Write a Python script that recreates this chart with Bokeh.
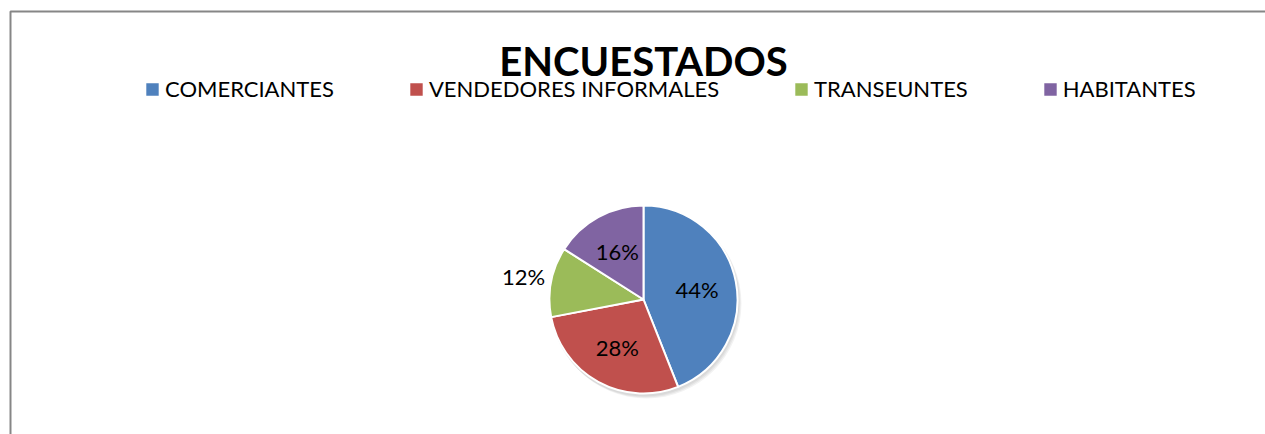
import math
from bokeh.plotting import figure
from bokeh.models import Range1d, Label, Legend, LegendItem, BoxAnnotation, ColumnDataSource, LabelSet
from bokeh.core.properties import value
from bokeh.embed import file_html
from bokeh.resources import INLINE

# ---- data ----
title_text = "ENCUESTADOS"
categories = ["COMERCIANTES", "VENDEDORES INFORMALES", "TRANSEUNTES", "HABITANTES"]
values = [44, 28, 12, 16]
colors = ["#4F81BD", "#C0504D", "#9BBB59", "#8064A2"]

# ---- layout ----
W, H = 1265, 434
CX, CY, R = 643, 135, 94
FONT = "Lato"

total = float(sum(values))
starts, ends, lx, ly, labels = [], [], [], [], []
cum = 0.0
for v in values:
    f0 = cum / total
    cum += v
    f1 = cum / total
    # clockwise from 12 o'clock
    starts.append(math.pi / 2 - 2 * math.pi * f1)
    ends.append(math.pi / 2 - 2 * math.pi * f0)
    mid = math.pi / 2 - 2 * math.pi * (f0 + f1) / 2
    rf = 0.58 if (f1 - f0) >= 0.15 else 1.3
    lx.append(CX + rf * R * math.cos(mid))
    ly.append(CY + rf * R * math.sin(mid))
    labels.append(f"{round((f1 - f0) * 100)}%")

src = ColumnDataSource(dict(cat=categories, val=values, color=colors,
                            start=starts, end=ends, lx=lx, ly=ly, lab=labels))

p = figure(width=W, height=H, output_backend="svg", toolbar_location=None,
           x_range=Range1d(0, W), y_range=Range1d(0, H),
           x_axis_type=None, y_axis_type=None, min_border=0)
p.grid.visible = False
p.outline_line_color = None
p.background_fill_color = "white"
p.border_fill_color = "white"

# chart border (top + left visible; right/bottom fall outside the window)
p.add_layout(BoxAnnotation(left=10, top=H - 11, right=W + 40, bottom=-40,
                           fill_alpha=0, line_color="#868686", line_alpha=1.0,
                           line_width=2, editable=False))

# soft shadow
for k in range(3):
    p.circle(x=CX + 1 + k, y=CY - 2 - k, radius=R + 1, fill_color="black", fill_alpha=0.05,
             line_color=None)

wr = p.wedge(x=CX, y=CY, radius=R, start_angle="start", end_angle="end",
             fill_color="color", line_color="white", line_width=2, source=src)

p.add_layout(LabelSet(x="lx", y="ly", text="lab", source=src, text_align="center",
                      text_baseline="middle", text_font=value(FONT), text_font_size="22px",
                      text_color="black"))

p.add_layout(Label(x=CX, y=374, text=title_text, text_align="center",
                   text_baseline="alphabetic", text_font=FONT, text_font_style="bold",
                   text_font_size="40px", text_color="black"))

items = [LegendItem(label=c, renderers=[wr], index=i) for i, c in enumerate(categories)]
legend = Legend(items=items, orientation="horizontal", location=(143, 332),
                glyph_width=18, glyph_height=18, label_standoff=4, spacing=73,
                padding=0, margin=0, border_line_color=None, background_fill_alpha=0,
                label_text_font=FONT, label_text_font_size="22px", label_text_color="black",
                label_height=20)
p.add_layout(legend, "center")

open("out.html", "w").write(file_html(p, INLINE))
